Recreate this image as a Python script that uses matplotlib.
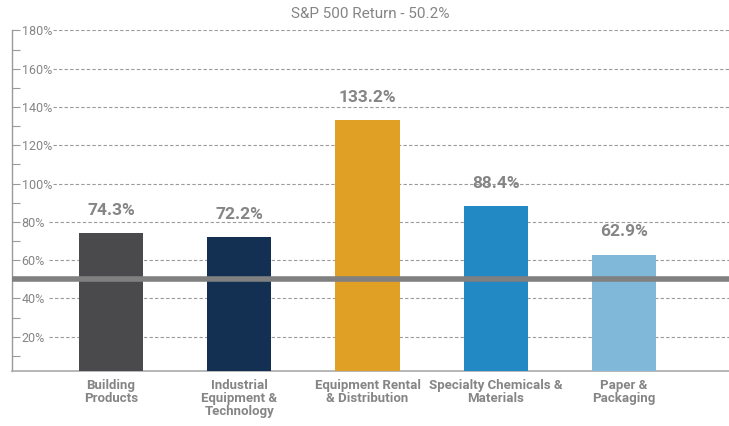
import matplotlib.pyplot as plt
import numpy as np
from matplotlib.ticker import MultipleLocator, FuncFormatter

# values
categories = ['Building\nProducts', 'Industrial\nEquipment &\nTechnology',
              'Equipment Rental\n& Distribution', 'Specialty Chemicals &\nMaterials',
              'Paper &\nPackaging']
returns = [74.3, 72.2, 133.2, 88.4, 62.9]
sp500_return = 50.2
bar_colors = ['#4a4a4c', '#132f52', '#e0a026', '#2389c5', '#7fb8d9']

plt.rcParams['font.family'] = ['Roboto', 'DejaVu Sans']

grey = '#858585'

fig = plt.figure(figsize=(7.29, 4.26), dpi=100)
ax = fig.add_axes([12 / 729, 55 / 426, 717 / 729, 341.5 / 426])

x = np.arange(len(categories))
bars = ax.bar(x, returns, width=0.5, color=bar_colors, zorder=3)

# value labels above the bars
for xi, val in zip(x, returns):
    ax.annotate(f'{val:.1f}%', (xi, val), xytext=(0, 11), textcoords='offset points',
                ha='center', va='bottom', fontsize=12.5, fontweight='bold', color=grey)

# S&P 500 reference line
ax.axhline(sp500_return, color='#808080', linewidth=4, zorder=4)

ax.set_xlim(-0.772, 4.819)
ax.set_ylim(2.1, 180.5)

# dashed grid lines starting after the tick labels
ax.yaxis.set_major_locator(MultipleLocator(20))
ax.yaxis.set_minor_locator(MultipleLocator(10))
ytrans = ax.get_yaxis_transform()
for yv in range(20, 181, 20):
    start = 0.057 if yv >= 100 else 0.051
    ax.plot([start, 1], [yv, yv], transform=ytrans, color='#9a9a9a',
            linewidth=0.8, linestyle=(0, (3, 2)), zorder=1)

ax.yaxis.set_major_formatter(FuncFormatter(lambda v, p: f'{v:.0f}%'))
ax.tick_params(axis='y', which='both', direction='in', length=6, width=0.8,
               color='#9a9a9a', labelcolor=grey, labelsize=9, pad=-7)
for lbl in ax.get_yticklabels():
    lbl.set_horizontalalignment('left')

ax.set_xticks(x)
ax.set_xticklabels(categories, fontsize=9.5, fontweight='bold', color=grey,
                   linespacing=1.0, va='top')
ax.tick_params(axis='x', length=0, pad=6)

ax.spines['top'].set_visible(False)
ax.spines['right'].set_visible(False)
ax.spines['left'].set_color('#9a9a9a')
ax.spines['bottom'].set_color('#aaaaaa')
ax.spines['left'].set_linewidth(1)
ax.spines['bottom'].set_linewidth(1.2)

fig.text(0.508, 0.967, f'S&P 500 Return - {sp500_return}%', ha='center', va='center',
         fontsize=11, color=grey)

plt.savefig('out.png', dpi=100)
